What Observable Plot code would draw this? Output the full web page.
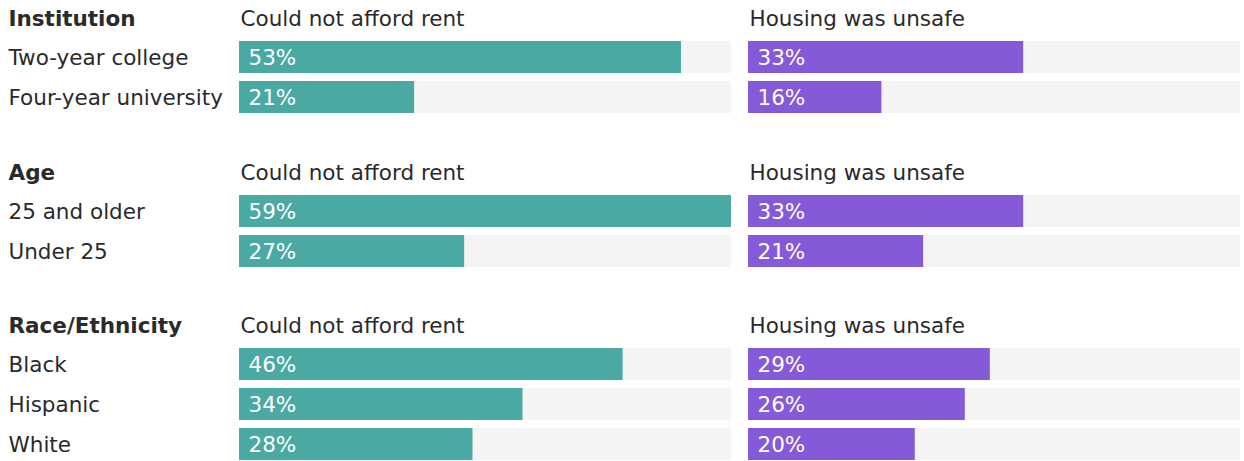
<!DOCTYPE html>
<html>
<head>
<meta charset="utf-8">
<script src="https://cdn.jsdelivr.net/npm/d3@7"></script>
<script src="https://cdn.jsdelivr.net/npm/@observablehq/plot@0.6"></script>
<style>
  html, body { margin: 0; padding: 0; background: #fff; overflow: hidden; }
  #chart svg { display: block; }
</style>
</head>
<body>
<div id="chart"></div>
<script>
const groupNames = ["Institution", "Age", "Race/Ethnicity"];
const categories = [
  ["Two-year college", "Four-year university"],
  ["25 and older", "Under 25"],
  ["Black", "Hispanic", "White"]
];
const measures = ["Could not afford rent", "Housing was unsafe"];
const rentValues = [[53, 21], [59, 27], [46, 34, 28]];
const unsafeValues = [[33, 16], [33, 21], [29, 26, 20]];

const colors = {"Could not afford rent": "#4aa9a3", "Housing was unsafe": "#855ad9"};
const maxValue = d3.max([...rentValues.flat(), ...unsafeValues.flat()]);
const heights = [154, 153, 157];
const font = "'DejaVu Sans', sans-serif";
const fs = 21.5;

const container = document.getElementById("chart");

groupNames.forEach((g, gi) => {
  const cats = categories[gi];
  const rows = cats.flatMap((c, i) => [
    {measure: measures[0], cat: c, value: rentValues[gi][i]},
    {measure: measures[1], cat: c, value: unsafeValues[gi][i]}
  ]);
  const titles = measures.map(m => ({measure: m}));
  const labelRows = cats.map(c => ({measure: measures[0], cat: c}));

  const chart = Plot.plot({
    width: 1244,
    height: heights[gi],
    marginLeft: 238,
    marginRight: 4,
    marginTop: 37,
    marginBottom: heights[gi] - 37 - cats.length * 40,
    style: {fontFamily: font, fontSize: fs + "px", color: "#2a2a2a", background: "#fff"},
    fx: {domain: measures, paddingInner: 0.0334, paddingOuter: 0, axis: null, label: null},
    x: {domain: [0, maxValue], axis: null},
    y: {domain: cats, paddingInner: 0.2, paddingOuter: 0.1, axis: null},
    marks: [
      Plot.barX(rows, {fx: "measure", y: "cat", x1: 0, x2: maxValue, fill: "#f4f4f4"}),
      Plot.barX(rows, {fx: "measure", y: "cat", x: "value", fill: d => colors[d.measure]}),
      Plot.text(rows, {fx: "measure", y: "cat", frameAnchor: "left", textAnchor: "start", dx: 9, dy: 1,
        text: d => d.value + "%", fill: "#fff", fontSize: fs, fontWeight: 500}),
      Plot.text(labelRows, {fx: "measure", y: "cat", text: "cat", frameAnchor: "left", textAnchor: "start",
        dx: -231, dy: 1, fill: "#2a2a2a", fontSize: fs}),
      Plot.text(titles, {fx: "measure", text: "measure", frameAnchor: "top-left", textAnchor: "start",
        lineAnchor: "middle", dx: 1, dy: -18, fill: "#2a2a2a", fontSize: fs}),
      Plot.text([{measure: measures[0], name: g}], {fx: "measure", text: "name", frameAnchor: "top-left",
        textAnchor: "start", lineAnchor: "middle", dx: -231, dy: -18, fill: "#2a2a2a", fontSize: fs, fontWeight: 700})
    ]
  });
  container.appendChild(chart);
});
</script>
</body>
</html>
